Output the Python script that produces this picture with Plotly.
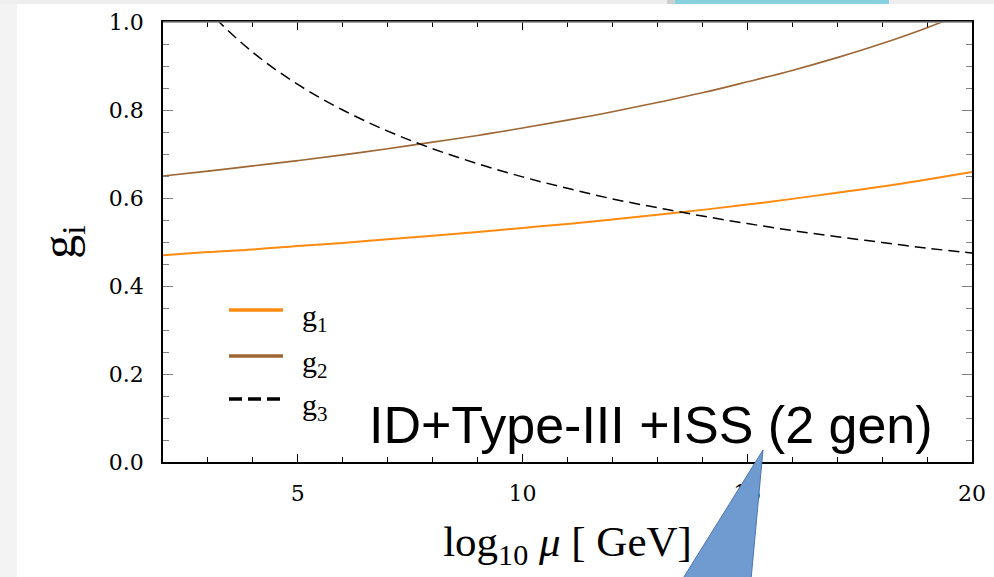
import plotly.graph_objects as go

# Running gauge couplings vs. renormalisation scale
log_mu = [2, 3, 4, 5, 6, 7, 8, 9, 10, 11, 12, 13, 14, 15, 16, 17, 18, 19, 20]
g1 = [0.470, 0.477, 0.483, 0.491, 0.498, 0.506, 0.514, 0.523, 0.532, 0.541,
      0.551, 0.562, 0.573, 0.585, 0.598, 0.612, 0.626, 0.642, 0.659]
g2 = [0.650, 0.661, 0.673, 0.685, 0.698, 0.712, 0.727, 0.742, 0.759, 0.777,
      0.796, 0.817, 0.839, 0.864, 0.890, 0.919, 0.951, 0.987, 1.028]
g3 = [1.159, 1.027, 0.931, 0.858, 0.800, 0.752, 0.712, 0.678, 0.648, 0.622,
      0.598, 0.578, 0.559, 0.542, 0.526, 0.512, 0.499, 0.486, 0.475]

x_ticks = [5, 10, 15, 20]
y_ticks = [0.0, 0.2, 0.4, 0.6, 0.8, 1.0]
series_names = ["g<sub>1</sub>", "g<sub>2</sub>", "g<sub>3</sub>"]

ORANGE = "#FF8A10"
BROWN = "#9E6634"
TICK_FONT = "DejaVu Serif"
SERIF = "Liberation Serif"

W, H = 994, 577
L, R, T, B = 163, 22, 22, 115
PW, PH = W - L - R, H - T - B


def px(x):
    return (x - L) / PW


def py(y):
    return (H - B - y) / PH


fig = go.Figure()
fig.add_trace(go.Scatter(x=log_mu, y=g1, mode="lines", name="g1",
                         line=dict(color=ORANGE, width=2, shape="spline")))
fig.add_trace(go.Scatter(x=log_mu, y=g2, mode="lines", name="g2",
                         line=dict(color=BROWN, width=1.6, shape="spline")))
fig.add_trace(go.Scatter(x=log_mu, y=g3, mode="lines", name="g3",
                         line=dict(color="black", width=1.5, shape="spline",
                                   dash="11px,6px")))

shapes = [
    # slide background strips
    dict(type="rect", xref="paper", yref="paper", x0=px(0), x1=px(17),
         y0=py(0), y1=py(H + 2), fillcolor="#F3F3F3", line_width=0, layer="below"),
    dict(type="rect", xref="paper", yref="paper", x0=px(0), x1=px(W),
         y0=py(0), y1=py(4), fillcolor="#EEEEEE", line_width=0, layer="below"),
    dict(type="rect", xref="paper", yref="paper", x0=px(667), x1=px(675),
         y0=py(0), y1=py(4), fillcolor="#CFCFCF", line_width=0, layer="below"),
    dict(type="rect", xref="paper", yref="paper", x0=px(675), x1=px(889),
         y0=py(0), y1=py(4), fillcolor="#86D0DF", line_width=0, layer="below"),
    # lighter top edge of the frame
    dict(type="line", xref="paper", yref="paper", x0=0, x1=1, y0=1, y1=1,
         line=dict(color="#808080", width=1.6), layer="above"),
    # callout pointer
    dict(type="path", xref="paper", yref="paper",
         path=f"M {px(763)} {py(450)} L {px(682)} {py(580)} L {px(751)} {py(580)} Z",
         fillcolor="#6F9BD0", line=dict(color="#4A78B4", width=1), layer="above"),
]

annotations = []
# legend drawn inside the frame
leg_y = [310, 356, 399]
leg_styles = [dict(color=ORANGE, width=3.5), dict(color=BROWN, width=3.5),
              dict(color="black", width=3.5, dash="13px,6px")]
for yy, st, name in zip(leg_y, leg_styles, series_names):
    shapes.append(dict(type="line", xref="paper", yref="paper",
                       x0=px(229), x1=px(283), y0=py(yy), y1=py(yy), line=st))
    annotations.append(dict(xref="paper", yref="paper", x=px(300), y=py(yy + 8),
                            xanchor="left", yanchor="middle", showarrow=False,
                            text=name, font=dict(family=SERIF, size=30, color="black")))

annotations.append(dict(xref="paper", yref="paper", x=px(651), y=py(425),
                        xanchor="center", yanchor="middle", showarrow=False,
                        text="ID+Type-III +ISS (2 gen)",
                        font=dict(family="Liberation Sans", size=52, color="black")))

fig.update_layout(
    width=W, height=H,
    margin=dict(l=L, r=R, t=T, b=B, autoexpand=False),
    paper_bgcolor="white", plot_bgcolor="white",
    showlegend=False,
    shapes=shapes, annotations=annotations,
    xaxis=dict(
        range=[2, 20], tickvals=x_ticks, ticktext=[str(v) for v in x_ticks],
        ticks="inside", ticklen=8, tickwidth=1, tickcolor="black",
        minor=dict(dtick=1, tick0=0, ticks="inside", ticklen=5, tickcolor="black", tickwidth=1),
        showline=True, linecolor="black", linewidth=1.5, mirror="allticks",
        showgrid=False, zeroline=False,
        tickfont=dict(family=TICK_FONT, size=22, color="black"),
        ticklabelstandoff=11,
        title=dict(text="log<sub>10</sub> <i>μ</i> [ GeV]", standoff=21,
                   font=dict(family=SERIF, size=43, color="black")),
    ),
    yaxis=dict(
        range=[0, 1], tickvals=y_ticks, tickformat=".1f",
        ticks="inside", ticklen=10, tickwidth=1.2, tickcolor="#7F7F7F",
        minor=dict(dtick=0.05, tick0=0, ticks="inside", ticklen=6, tickcolor="#7F7F7F", tickwidth=1.2),
        showline=True, linecolor="black", linewidth=1.5, mirror="allticks",
        showgrid=False, zeroline=False,
        tickfont=dict(family=TICK_FONT, size=22, color="black"),
        ticklabelstandoff=13,
        title=dict(text="g<sub>i</sub>", standoff=18,
                   font=dict(family=SERIF, size=48, color="black")),
    ),
)

fig.write_html("out.html")
